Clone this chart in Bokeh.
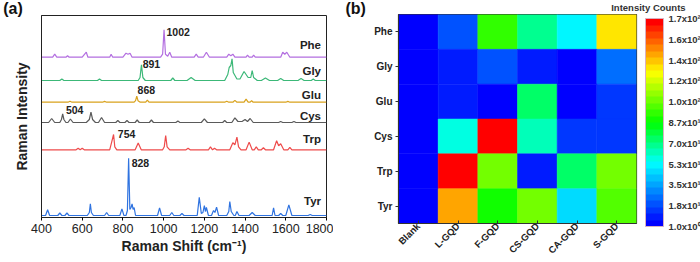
from bokeh.plotting import figure
from bokeh.layouts import row
from bokeh.models import (ColumnDataSource, Label, LinearColorMapper, ColorBar,
                          FixedTicker, Range1d, FactorRange)
from bokeh.embed import file_html
from bokeh.resources import INLINE
from bokeh.core.properties import value

# ---------------- data: panel (a) Raman spectra ----------------
names = ["Phe", "Gly", "Glu", "Cys", "Trp", "Tyr"]
offsets = [160.3, 137.0, 115.3, 95.0, 67.7, 2.0]

phe_x = [400, 455, 465, 475, 520, 528, 536, 600, 612, 620, 628, 735, 742, 750,
         800, 815, 825, 835, 845, 985, 995, 1002, 1009, 1020, 1030, 1040,
         1150, 1160, 1170, 1195, 1210, 1225, 1310, 1320, 1330, 1340, 1350,
         1405, 1412, 1420, 1435, 1442, 1450, 1575, 1585, 1595, 1605, 1620, 1800]
phe_y = [0, 0, 3, 0, 0, 1.5, 0, 0, 3, 5, 0, 0, 3, 0,
         0, 4, 3, 4, 0, 0, 3, 27.3, 3, 1, 5, 0,
         0, 3, 0, 0, 5, 0, 0, 3, 1.5, 3, 0,
         0, 2, 0, 0, 2, 0, 0, 5, 3, 5, 0, 0]

gly_x = [400, 490, 500, 510, 675, 685, 695, 875, 884, 891, 898, 910,
         1035, 1045, 1055, 1115, 1135, 1155, 1300, 1315, 1322, 1330, 1336, 1342, 1360,
         1375, 1395, 1415, 1428, 1435, 1442, 1460, 1480, 1500, 1520,
         1560, 1575, 1590, 1660, 1675, 1690, 1725, 1735, 1745, 1800]
gly_y = [0, 0, 1.5, 0, 0, 1.5, 0, 0, 3, 15.7, 3, 0,
         0, 2.5, 0, 0, 3, 0, 0, 6, 13, 15, 21.7, 8, 1.5,
         1.5, 9, 3, 3, 10, 3, 0, 0, 2.5, 0,
         0, 2, 0, 0, 2, 0, 0, 1.5, 0, 0]

glu_x = [400, 530, 540, 550, 700, 710, 720, 855, 862, 868, 874, 885, 912, 920, 928,
         1300, 1310, 1320, 1340, 1350, 1360, 1395, 1405, 1415, 1425, 1432, 1440,
         1600, 1610, 1620, 1800]
glu_y = [0, 0, 1, 0, 0, 0.8, 0, 0, 1.5, 6, 1.5, 0, 0, 2, 0,
         0, 1, 0, 0, 1.8, 0, 0, 3, 0, 0, 1.5, 0,
         0, 0.8, 0, 0]

cys_x = [400, 435, 450, 465, 490, 498, 504, 510, 520, 530, 542, 555,
         620, 635, 643, 651, 665, 680, 695, 710, 765, 775, 785, 810, 820, 830,
         860, 870, 880, 930, 940, 950, 1060, 1070, 1080, 1185, 1200, 1215,
         1290, 1300, 1310, 1335, 1350, 1365, 1385, 1400, 1412, 1425, 1440,
         1565, 1575, 1585, 1630, 1640, 1650, 1800]
cys_y = [0, 0, 4, 0, 0, 3, 8.7, 3, 0, 0, 3.5, 0,
         0, 3, 10.3, 3, 0, 0, 5, 0, 0, 2, 0, 0, 2, 0,
         0, 2.5, 0, 0, 2.5, 0, 0, 1.5, 0, 0, 3.7, 0,
         0, 2, 0, 0, 4.7, 1, 1, 3, 1, 4, 0,
         0, 1, 0, 0, 1, 0, 0]

trp_x = [400, 570, 580, 590, 600, 610, 735, 745, 754, 760, 770, 860, 875, 890,
         995, 1003, 1010, 1017, 1030, 1110, 1120, 1130, 1220, 1230, 1240, 1250, 1260,
         1325, 1340, 1350, 1360, 1368, 1380, 1405, 1420, 1435, 1445, 1455, 1465,
         1480, 1490, 1500, 1540, 1555, 1565, 1575, 1590, 1610, 1620, 1630, 1800]
trp_y = [0, 0, 1.5, 0, 1.5, 0, 0, 8, 15.3, 3, 0, 0, 6.7, 0,
         0, 3, 14.3, 3, 0, 0, 1.5, 0, 0, 3, 0, 1.5, 0,
         0, 7, 5, 12.7, 3, 0, 0, 7.7, 0, 0, 3, 0,
         0, 2, 0, 0, 9, 4, 6, 0, 0, 2.5, 0, 0]

tyr_x = [400, 420, 430, 440, 480, 490, 500, 515, 525, 535, 625, 635, 640, 645, 655,
         710, 720, 730, 785, 795, 805, 815, 822, 828, 834, 840, 845, 850, 855, 862,
         970, 980, 990, 1030, 1040, 1050, 1080, 1090, 1100,
         1165, 1175, 1185, 1193, 1200, 1205, 1210, 1220, 1235, 1245, 1252, 1260, 1270,
         1310, 1320, 1325, 1332, 1345, 1352, 1360, 1370, 1420, 1435, 1450,
         1533, 1540, 1547, 1565, 1575, 1585, 1600, 1615, 1630, 1710, 1720, 1730, 1800]
tyr_y = [0, 0, 5.7, 0, 0, 2.5, 0, 0, 2.5, 0, 0, 3, 11.7, 3, 0,
         0, 3, 0, 0, 6.7, 0, 0, 5, 57.3, 6, 8, 11.7, 6, 8, 0,
         0, 7.7, 0, 0, 3, 0, 0, 2, 0,
         0, 18.3, 2, 3, 10, 4, 8, 0, 0, 5, 3, 8.3, 0,
         0, 4, 14, 4, 0, 0, 4, 0, 0, 3, 0,
         0, 7.7, 0, 0, 2, 0, 0, 10.7, 0, 0, 1, 0, 0]

peak_labels = ["1002", "891", "868", "504", "754", "828"]
peak_label_x = [1014, 897, 872, 520, 775, 843]
peak_label_y = [186, 154, 128, 108, 84, 55]
name_label_y = [173, 147, 123, 102, 79, 17]

# ---------------- data: panel (b) heat map ----------------
gqds = ["Blank", "L-GQD", "F-GQD", "CS-GQD", "CA-GQD", "S-GQD"]
acids = ["Phe", "Gly", "Glu", "Cys", "Trp", "Tyr"]
counts = [
    [1, 21, 94, 67, 53, 130],    # Phe
    [1, 11, 19, 9, 2, 23],       # Gly
    [1, 11, 3, 73, 2, 17],       # Glu
    [1, 60, 173, 61, 17, 17],    # Cys
    [1, 172, 106, 9, 75, 106],   # Trp
    [1, 143, 87, 106, 46, 100],  # Tyr
]
cb_ticks = [1, 18.2, 35.4, 52.6, 69.8, 87, 104.2, 121.4, 138.6, 155.8, 173]
cb_labels = ["1.0x10\u2070", "1.8x10\u00b9", "3.5x10\u00b9", "5.3x10\u00b9", "7.0x10\u00b9",
             "8.7x10\u00b9", "1.0x10\u00b2", "1.2x10\u00b2", "1.4x10\u00b2", "1.6x10\u00b2",
             "1.7x10\u00b2"]

# ---------------- styles ----------------
FONT = "Liberation Sans"
colors = ["#b36fe0", "#3cb878", "#d9a21c", "#5a5a5a", "#ee4b4b", "#2f73e0"]
xs_all = [phe_x, gly_x, glu_x, cys_x, trp_x, tyr_x]
ys_all = [phe_y, gly_y, glu_y, cys_y, trp_y, tyr_y]

# ---------------- panel (a) ----------------
p1 = figure(width=333, height=287, output_backend="svg", toolbar_location=None,
            x_range=Range1d(400, 1800), y_range=Range1d(0, 202),
            min_border_left=41, min_border_right=7, min_border_top=40, min_border_bottom=45,
            margin=(-25, 0, 0, 0))
p1.background_fill_color = "white"
p1.border_fill_color = "white"
p1.outline_line_color = "#222222"
p1.outline_line_width = 1
p1.grid.visible = False

for xs, ys, off, col in zip(xs_all, ys_all, offsets, colors):
    src = ColumnDataSource(dict(x=xs, y=[v + off for v in ys]))
    p1.line("x", "y", source=src, line_color=col, line_width=1.2)

xa = p1.xaxis[0]
xa.ticker = FixedTicker(ticks=[400, 600, 800, 1000, 1200, 1400, 1600, 1800])
xa.major_tick_out = 3
xa.major_tick_in = 0
xa.minor_tick_line_color = None
xa.major_label_standoff = 3
xa.major_label_text_font = FONT
xa.major_label_text_font_size = "12.5px"
xa.major_label_text_color = "#222222"
xa.axis_label = "Raman Shift (cm\u207b\u00b9)"
xa.axis_label_text_font = FONT
xa.axis_label_text_font_style = "bold"
xa.axis_label_text_font_size = "14px"
xa.axis_label_text_color = "#222222"
xa.axis_label_standoff = 2
xa.axis_line_color = "#222222"

ya = p1.yaxis[0]
ya.ticker = FixedTicker(ticks=[])
ya.major_tick_out = 0
ya.major_tick_in = 0
ya.minor_tick_line_color = None
ya.major_label_standoff = 0
ya.axis_label = "Raman Intensity"
ya.axis_label_text_font = FONT
ya.axis_label_text_font_style = "bold"
ya.axis_label_text_font_size = "14px"
ya.axis_label_text_color = "#222222"
ya.axis_label_standoff = 12
ya.axis_line_color = "#222222"

pk_src = ColumnDataSource(dict(x=peak_label_x, y=peak_label_y, t=peak_labels))
p1.text("x", "y", text="t", source=pk_src, text_font=value(FONT), text_font_style="bold",
        text_font_size="10.5px", text_color="#222222", text_baseline="middle", text_align="left")
nm_src = ColumnDataSource(dict(x=[1773] * 6, y=name_label_y, t=names))
p1.text("x", "y", text="t", source=nm_src, text_font=value(FONT), text_font_style="bold",
        text_font_size="11.5px", text_color="#222222", text_baseline="middle", text_align="right")

p1.add_layout(Label(x=260, y=209, text="(a)",
                    text_font=FONT, text_font_style="bold", text_font_size="16px",
                    text_align="center", text_baseline="middle", text_color="#111111"), "above")

# ---------------- panel (b) ----------------
stops = [(0.0, (0, 0, 255)), (0.3, (0, 255, 255)), (0.5, (0, 255, 0)),
         (0.75, (255, 255, 0)), (1.0, (255, 0, 0))]
NLEV = 32
palette = []
for i in range(NLEV):
    t = i / (NLEV - 1)
    for (t0, c0), (t1, c1) in zip(stops[:-1], stops[1:]):
        if t0 <= t <= t1:
            f = (t - t0) / (t1 - t0)
            rgb = tuple(int(round(a + (b - a) * f)) for a, b in zip(c0, c1))
            break
    palette.append("#%02x%02x%02x" % rgb)

mapper = LinearColorMapper(palette=palette, low=1, high=173)

hx, hy, hv = [], [], []
for ai, acid in enumerate(acids):
    for gi, g in enumerate(gqds):
        hx.append(g)
        hy.append(acid)
        hv.append(counts[ai][gi])
hsrc = ColumnDataSource(dict(x=hx, y=hy, v=hv))

p2 = figure(frame_width=238, frame_height=209, output_backend="svg", toolbar_location=None,
            x_range=FactorRange(factors=gqds), y_range=FactorRange(factors=list(reversed(acids))),
            min_border_left=65, min_border_right=64, min_border_top=40, min_border_bottom=39,
            margin=(-26, 0, 0, 0))
p2.grid.visible = False
p2.outline_line_color = "#333333"
p2.outline_line_width = 1.2
p2.rect("x", "y", width=1, height=1, source=hsrc,
        fill_color={"field": "v", "transform": mapper},
        line_color={"field": "v", "transform": mapper}, line_width=0.5)

for ax in (p2.xaxis[0], p2.yaxis[0]):
    ax.major_label_text_font = FONT
    ax.major_label_text_font_style = "bold"
    ax.major_label_text_color = "#222222"
    ax.axis_line_color = "#333333"
    ax.major_tick_line_color = "#333333"
p2.xaxis[0].major_label_text_font_size = "9.5px"
p2.xaxis[0].major_label_orientation = 0.785
p2.xaxis[0].major_tick_in = 3
p2.xaxis[0].major_tick_out = 0
p2.xaxis[0].major_label_standoff = 1
p2.yaxis[0].major_label_text_font_size = "10px"
p2.yaxis[0].major_tick_in = 0
p2.yaxis[0].major_tick_out = 3
p2.yaxis[0].major_label_standoff = 3

cb = ColorBar(color_mapper=mapper, ticker=FixedTicker(ticks=cb_ticks),
              major_label_overrides={t: l for t, l in zip(cb_ticks, cb_labels)},
              width=18, height=208, padding=0, location=(247, -3),
              label_standoff=5, major_tick_line_color=None, bar_line_color="#d8b0c0",
              background_fill_color=None, border_line_color=None,
              major_label_text_font=FONT, major_label_text_font_size="9.5px",
              major_label_text_font_style="bold", major_label_text_color="#333333")
p2.add_layout(cb, "center")

p2.add_layout(Label(x=6.30, y=6.20, text="Intensity Counts",
                    text_font=FONT, text_font_style="bold", text_font_size="9.5px",
                    text_align="center", text_baseline="middle", text_color="#333333"), "above")
p2.add_layout(Label(x=-1.08, y=6.17, text="(b)",
                    text_font=FONT, text_font_style="bold", text_font_size="16px",
                    text_align="center", text_baseline="middle", text_color="#111111"), "above")

layout = row(p1, p2, styles={"overflow": "hidden"})
open("out.html", "w").write(file_html(layout, INLINE))
